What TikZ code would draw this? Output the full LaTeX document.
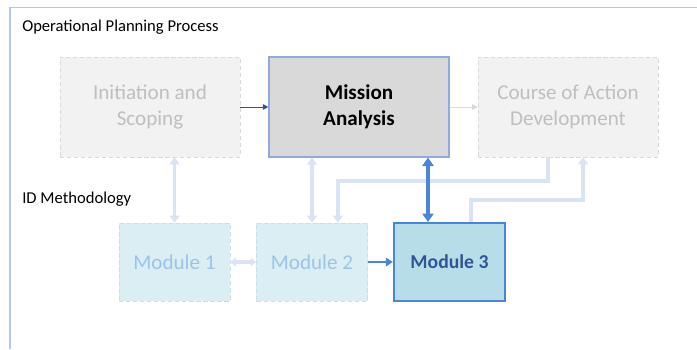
\documentclass[tikz,border=0pt]{standalone}
\usepackage{fontspec}
\setmainfont{Carlito}
\usetikzlibrary{arrows.meta}
\definecolor{frameline}{RGB}{180,199,231}
\definecolor{ghostfill}{RGB}{242,242,242}
\definecolor{ghostline}{RGB}{217,217,217}
\definecolor{ghosttext}{RGB}{191,191,191}
\definecolor{mafill}{RGB}{217,217,217}
\definecolor{maline}{RGB}{143,170,220}
\definecolor{modfill}{RGB}{218,238,243}
\definecolor{modline}{RGB}{197,224,234}
\definecolor{modtext}{RGB}{157,195,230}
\definecolor{activefill}{RGB}{183,222,232}
\definecolor{activeline}{RGB}{74,134,216}
\definecolor{activetext}{RGB}{47,85,151}
\definecolor{lightlink}{RGB}{218,227,243}
\begin{document}
\begin{tikzpicture}[x=0.025cm,y=-0.025cm,
    stage/.style={minimum width=4.5cm,minimum height=2.5cm,inner sep=0pt,align=center,font=\fontsize{15}{18.6}\selectfont},
    ghoststage/.style={stage,fill=ghostfill,draw=ghostline,densely dashed,text=ghosttext},
    module/.style={minimum width=2.775cm,minimum height=1.95cm,inner sep=0pt,font=\fontsize{15}{18}\selectfont},
    ghostmodule/.style={module,fill=modfill,draw=modline,densely dashed,text=modtext},
    lightlink/.style={draw=lightlink,line width=2.2pt,-{Triangle[length=5pt,width=7pt]}},
    bluelink/.style={draw=activeline,line width=1.5pt,-{Triangle[length=5pt,width=6pt]}}]
    \useasboundingbox (0,0) rectangle (697,349);
    \draw [frameline,line width=0.8pt] (697,7.5) -| (10,349);
    \node [anchor=west,inner sep=0pt,font=\fontsize{11.8}{13}\selectfont] (oppt) at (22,27) {Operational Planning Process};
    \node [anchor=west,inner sep=0pt,font=\fontsize{11.8}{13}\selectfont] (idm) at (22,199) {ID Methodology};
    % planning stages
    \node [ghoststage] (init) at (150,107) {Initiation and\\Scoping};
    \node [stage,fill=mafill,draw=maline,line width=0.8pt,font=\fontsize{15}{18.6}\selectfont\bfseries] (ma) at (359,107) {Mission\\Analysis};
    \node [ghoststage] (coa) at (568,107) {Course of Action\\Development};
    % modules
    \node [ghostmodule] (mone) at (174.5,262) {Module 1};
    \node [ghostmodule] (mtwo) at (312,262) {Module 2};
    \node [module,fill=activefill,draw=activeline,line width=1.5pt,text=activetext,font=\fontsize{14}{18}\selectfont\bfseries] (mthree) at (449.5,262) {Module 3};
    % links
    \coordinate (cm) at (428,0);
    \coordinate (ca) at (548,181);
    \coordinate (cb) at (338,181);
    \coordinate (cc) at (471,200);
    \coordinate (cd) at (583,200);
    \draw [activetext,line width=0.7pt,-{Triangle[length=4pt,width=4pt]}] (init) -- (ma);
    \draw [ghostline,line width=0.7pt,-{Triangle[length=4pt,width=4pt]}] (ma) -- (coa);
    \draw [lightlink,{Triangle[length=5pt,width=7pt]}-{Triangle[length=5pt,width=7pt]}] (init.south -| mone.north) -- (mone.north);
    \draw [lightlink,{Triangle[length=5pt,width=7pt]}-{Triangle[length=5pt,width=7pt]}] (ma.south -| mtwo.north) -- (mtwo.north);
    \draw [lightlink] (coa.south -| ca) -- (ca) -- (cb) -- (mtwo.north -| cb);
    \draw [lightlink] (mthree.north -| cc) -- (cc) -- (cd) -- (coa.south -| cd);
    \draw [lightlink,{Triangle[length=4pt,width=6pt]}-{Triangle[length=4pt,width=6pt]}] (mone) -- (mtwo);
    \draw [bluelink,line width=2.2pt,{Triangle[length=6pt,width=8pt]}-{Triangle[length=6pt,width=8pt]}] (ma.south -| cm) -- (mthree.north -| cm);
    \draw [bluelink] (mtwo) -- (mthree);
\end{tikzpicture}
\end{document}
